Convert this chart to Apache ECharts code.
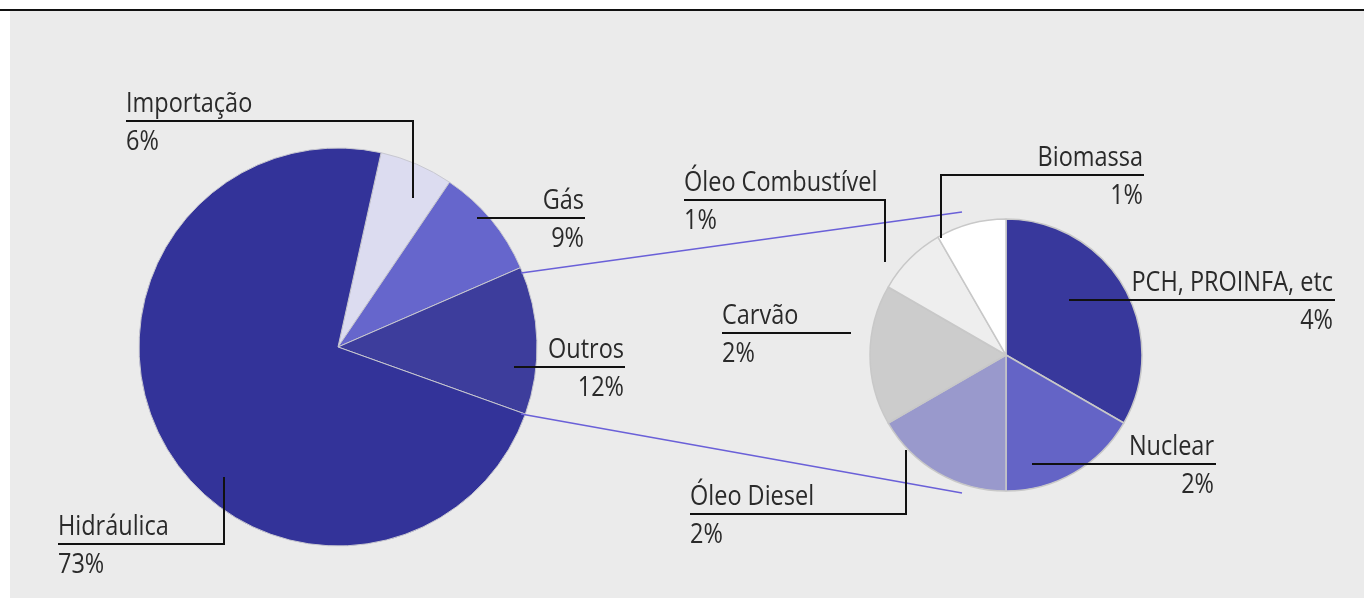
<!DOCTYPE html>
<html><head><meta charset="utf-8">
<script src="https://cdn.jsdelivr.net/npm/echarts@6/dist/echarts.min.js"></script>
<style>html,body{margin:0;padding:0;background:#fff}#c{width:1364px;height:598px}</style>
</head><body><div id="c"></div>
<script>
// Left pie
var mainCategories = ['Importação', 'Gás', 'Outros', 'Hidráulica'];
var mainValues = [6, 9, 12, 73];
var mainColors = ['#dcdcf0', '#6666cc', '#3d3d9c', '#333399'];
// Right pie (breakdown of "Outros")
var otherCategories = ['PCH, PROINFA, etc', 'Nuclear', 'Óleo Diesel', 'Carvão', 'Óleo Combustível', 'Biomassa'];
var otherValues = [4, 2, 2, 2, 1, 1];
var otherColors = ['#38389c', '#6464c6', '#9999cc', '#cccccc', '#eeeeee', '#ffffff'];

var chart = echarts.init(document.getElementById('c'), null, {renderer: 'canvas'});
var FONT = '"Open Sans", "Noto Sans", sans-serif';
var FS = 27;
var SX = 0.87;
var TXT = '#2a2a2a';

function pct(v) { return v + '%'; }

// annotation layout: [name, value, textX, textMidY, align, underline x1, x2, extra vertical [x, yEnd] or null]
var ann = [
  [mainCategories[0], mainValues[0], 126, 104, 'left', 126, 413, [413, 198]],
  [mainCategories[1], mainValues[1], 584, 201, 'right', 477, 585, null],
  [mainCategories[2], mainValues[2], 624, 350, 'right', 514, 625, null],
  [mainCategories[3], mainValues[3], 58, 527, 'left', 58, 224, [224, 477]],
  [otherCategories[4], otherValues[4], 684, 183, 'left', 684, 885, [885, 262]],
  [otherCategories[5], otherValues[5], 1143, 158, 'right', 941, 1144, [941, 238]],
  [otherCategories[3], otherValues[3], 722, 316, 'left', 722, 851, null],
  [otherCategories[0], otherValues[0], 1333, 283, 'right', 1069, 1335, null],
  [otherCategories[1], otherValues[1], 1214, 447, 'right', 1032, 1216, null],
  [otherCategories[2], otherValues[2], 690, 497, 'left', 690, 906, [906, 450]]
];

var graphics = [
  {type: 'rect', shape: {x: 10, y: 11, width: 1354, height: 587}, style: {fill: '#ebebeb'}, z: -10, silent: true},
  {type: 'line', shape: {x1: 0, y1: 10, x2: 1364, y2: 10}, style: {stroke: '#111', lineWidth: 2}, z: -5},
  // connector lines between pies
  {type: 'line', shape: {x1: 521, y1: 273, x2: 962, y2: 212}, style: {stroke: '#6a60d8', lineWidth: 1.5}, z: 20},
  {type: 'line', shape: {x1: 521, y1: 414, x2: 962, y2: 493}, style: {stroke: '#6a60d8', lineWidth: 1.5}, z: 20}
];

ann.forEach(function (a) {
  var name = a[0], val = a[1], tx = a[2], ty = a[3], align = a[4];
  var uy = ty + 17;
  var pts;
  var ext = a[7];
  if (ext) {
    var atRight = Math.abs(ext[0] - a[6]) < Math.abs(ext[0] - a[5]);
    if (atRight) pts = [[a[5], uy], [a[6], uy], [ext[0], ext[1]]];
    else pts = [[ext[0], ext[1]], [a[5], uy], [a[6], uy]];
  } else {
    pts = [[a[5], uy], [a[6], uy]];
  }
  graphics.push({type: 'polyline', shape: {points: pts}, style: {stroke: '#111', lineWidth: 2, fill: null}, z: 30});
  graphics.push({type: 'text', x: tx, y: ty, scaleX: SX, style: {text: name, font: FS + 'px ' + FONT, fill: TXT, textAlign: align, textVerticalAlign: 'middle'}, z: 30});
  graphics.push({type: 'text', x: tx, y: ty + 38, scaleX: SX, style: {text: pct(val), font: FS + 'px ' + FONT, fill: TXT, textAlign: align, textVerticalAlign: 'middle'}, z: 30});
});

chart.setOption({
  animation: false,
  backgroundColor: 'transparent',
  graphic: graphics,
  series: [
    {
      type: 'pie', center: [338, 347], radius: [0, 199], startAngle: 77.5, clockwise: true,
      label: {show: false}, labelLine: {show: false}, silent: true,
      itemStyle: {borderColor: '#c8c8d0', borderWidth: 1},
      data: mainCategories.map(function (n, i) { return {name: n, value: mainValues[i], itemStyle: {color: mainColors[i]}}; })
    },
    {
      type: 'pie', center: [1006, 355], radius: [0, 136], startAngle: 90, clockwise: true,
      label: {show: false}, labelLine: {show: false}, silent: true,
      itemStyle: {borderColor: '#c8c8c8', borderWidth: 1.5},
      data: otherCategories.map(function (n, i) { return {name: n, value: otherValues[i], itemStyle: {color: otherColors[i]}}; })
    }
  ]
});
</script></body></html>
